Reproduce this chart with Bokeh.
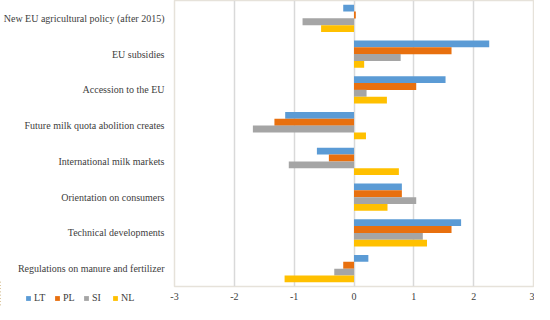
from bokeh.plotting import figure
from bokeh.layouts import column
from bokeh.models import FactorRange, Range1d, Legend, LegendItem, FixedTicker, PrintfTickFormatter
from bokeh.transform import dodge
from bokeh.embed import file_html
from bokeh.resources import INLINE

categories = [
    "New EU agricultural policy (after 2015)",
    "EU subsidies",
    "Accession to the EU",
    "Future milk quota abolition creates",
    "International milk markets",
    "Orientation on consumers",
    "Technical developments",
    "Regulations on manure and fertilizer",
]
LT = [-0.18, 2.26, 1.53, -1.15, -0.62, 0.80, 1.79, 0.24]
PL = [0.03, 1.63, 1.04, -1.33, -0.42, 0.80, 1.63, -0.18]
SI = [-0.86, 0.78, 0.21, -1.69, -1.09, 1.04, 1.15, -0.33]
NL = [-0.55, 0.17, 0.55, 0.20, 0.75, 0.56, 1.22, -1.16]
series = ["LT", "PL", "SI", "NL"]
colors = ["#5B9BD5", "#E8700F", "#A5A5A5", "#FFC000"]
x_ticks = [-3, -2, -1, 0, 1, 2, 3]

FONT = "Liberation Serif"
TXT = "#404040"

data = dict(cat=categories, LT=LT, PL=PL, SI=SI, NL=NL)

p = figure(
    width=534, height=302,
    y_range=FactorRange(factors=list(reversed(categories)), range_padding=0),
    x_range=Range1d(-3, 3),
    output_backend="svg", toolbar_location=None,
    min_border_left=172, min_border_right=1, min_border_top=0, min_border_bottom=0,
)

offsets = [0.285, 0.095, -0.095, -0.285]
for s, c, off in zip(series, colors, offsets):
    p.hbar(y=dodge("cat", off, range=p.y_range), right=s, left=0, height=0.19,
           source=data, fill_color=c, line_color=None)

p.xaxis.ticker = FixedTicker(ticks=x_ticks)
p.xaxis.formatter = PrintfTickFormatter(format="%d")
p.xaxis.axis_line_color = None
p.xaxis.major_tick_line_color = None
p.xaxis.minor_tick_line_color = None
p.xaxis.major_tick_out = 0
p.xaxis.major_label_standoff = 6
p.xaxis.major_label_text_font = FONT
p.xaxis.major_label_text_font_size = "10px"
p.xaxis.major_label_text_color = TXT

p.yaxis.axis_line_color = None
p.yaxis.major_tick_line_color = None
p.yaxis.minor_tick_line_color = None
p.yaxis.major_tick_out = 0
p.yaxis.major_label_standoff = 10
p.yaxis.major_label_text_font = FONT
p.yaxis.major_label_text_font_size = "10px"
p.yaxis.major_label_text_color = TXT

p.ygrid.grid_line_color = None
p.xgrid.grid_line_color = "#D9D9D9"
p.xgrid.grid_line_width = 1.5
p.outline_line_color = "#E6E2DA"
p.outline_line_width = 1.5
p.background_fill_color = "white"
p.border_fill_color = "white"

# transparent strip carrying the legend, overlapping the bottom-left corner of the chart.
# Its proxy bars use the same data but lie outside this strip's x range, so only the legend shows.
lf = figure(
    width=534, height=26,
    x_range=Range1d(5, 6),
    y_range=FactorRange(factors=list(reversed(categories)), range_padding=0),
    x_axis_location=None, y_axis_location=None,
    output_backend="svg", toolbar_location=None,
    min_border_left=0, min_border_right=0, min_border_top=0, min_border_bottom=0,
)
for fig in (p, lf):
    if "frame_align" in fig.properties():
        fig.frame_align = False
lf.grid.visible = False
lf.outline_line_color = None
lf.background_fill_alpha = 0
lf.border_fill_alpha = 0
lf.margin = (-22, 0, 0, 0)
legend_renderers = []
for s, c in zip(series, colors):
    legend_renderers.append(lf.hbar(y="cat", right=s, left=0, height=0.19, source=data,
                                    fill_color=c, line_color=None))

legend = Legend(
    items=[LegendItem(label=s, renderers=[r]) for s, r in zip(series, legend_renderers)],
    orientation="horizontal",
    location=(25, 3),
    padding=0, margin=0, spacing=7,
    glyph_width=6, glyph_height=6, label_standoff=3, label_width=13,
    label_text_font=FONT, label_text_font_size="10px", label_text_color=TXT,
    label_height=10,
    border_line_color=None, background_fill_alpha=0,
)
lf.add_layout(legend)

layout = column(p, lf, spacing=0)
open("out.html", "w").write(file_html(layout, INLINE))
